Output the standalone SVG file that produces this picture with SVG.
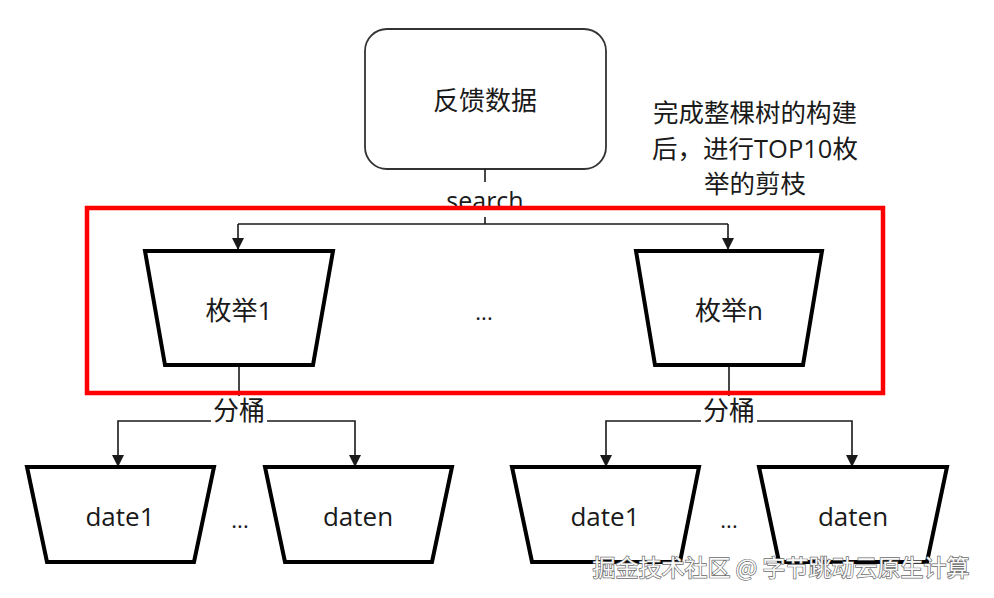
<svg xmlns="http://www.w3.org/2000/svg" width="994" height="598" viewBox="0 0 994 598">
<style>
.t{font-family:"Open Sans","Noto Sans CJK SC",sans-serif;fill:#1a1a1a;text-anchor:middle;dominant-baseline:central}
.trap{fill:#fff;stroke:#000;stroke-width:4;stroke-linejoin:miter}
.c{fill:none;stroke:#1a1a1a;stroke-width:1.6}
.lbl{fill:#fff}
</style>
<defs>
<marker id="ah" markerWidth="12" markerHeight="12" viewBox="0 0 12 12" refX="11" refY="6" orient="auto" markerUnits="userSpaceOnUse">
<path d="M0,0 L12,6 L0,12 Z" fill="#1a1a1a"/>
</marker>
</defs>
<rect width="994" height="598" fill="#fff"/>
<g id="feedback">
<rect x="365" y="29" width="241" height="140" rx="22" fill="#fff" stroke="#333" stroke-width="1.8"/>
<text class="t" x="485" y="100" font-size="26">反馈数据</text>
</g>
<g id="connectors">
<path class="c" d="M485,169 V224 M238,224 H728 M238,224 V249" marker-end="url(#ah)"/>
<path class="c" d="M728,224 V249" marker-end="url(#ah)"/>
<path class="c" d="M239,365 V421 H118 V466" marker-end="url(#ah)"/>
<path class="c" d="M239,421 H355 V466" marker-end="url(#ah)"/>
<path class="c" d="M729,365 V421 H606 V466" marker-end="url(#ah)"/>
<path class="c" d="M729,421 H852 V466" marker-end="url(#ah)"/>
<rect class="lbl" x="441" y="182" width="88" height="35"/>
<text class="t" x="485" y="200" font-size="25">search</text>
<rect class="lbl" x="211" y="396" width="56" height="30"/>
<text class="t" x="239" y="410" font-size="26">分桶</text>
<rect class="lbl" x="701" y="396" width="56" height="30"/>
<text class="t" x="729" y="410" font-size="26">分桶</text>
</g>
<g id="enum1">
<path class="trap" d="M145,251 H333 L313,365 H165 Z"/>
<text class="t" x="239" y="310" font-size="26">枚举1</text>
</g>
<g id="enum-dots"><text class="t" x="484" y="311" font-size="22">...</text></g>
<g id="enumn">
<path class="trap" d="M636,251 H822 L803,365 H655 Z"/>
<text class="t" x="729" y="310" font-size="26">枚举n</text>
</g>
<g id="highlight">
<rect x="87" y="208" width="796" height="185" fill="none" stroke="#f00" stroke-width="4.5"/>
</g>
<g id="note">
<text class="t" x="755" y="112" font-size="25.5">完成整棵树的构建</text>
<text class="t" x="755" y="148" font-size="25.5">后，进行TOP10枚</text>
<text class="t" x="755" y="183" font-size="25.5">举的剪枝</text>
</g>
<g id="date1a">
<path class="trap" d="M27,467 H214 L194,562 H47 Z"/>
<text class="t" x="120" y="516" font-size="26">date1</text>
</g>
<g id="dots-a"><text class="t" x="240" y="519" font-size="22">...</text></g>
<g id="datena">
<path class="trap" d="M265,467 H452 L432,562 H285 Z"/>
<text class="t" x="358" y="516" font-size="26">daten</text>
</g>
<g id="date1b">
<path class="trap" d="M512,467 H699 L680,562 H532 Z"/>
<text class="t" x="605" y="516" font-size="26">date1</text>
</g>
<g id="dots-b"><text class="t" x="729" y="519" font-size="22">...</text></g>
<g id="datenb">
<path class="trap" d="M759,467 H947 L927,562 H779 Z"/>
<text class="t" x="853" y="516" font-size="26">daten</text>
</g>
<g id="watermark">
<text x="781" y="566" font-size="23" text-anchor="middle" dominant-baseline="central" font-family="'Noto Sans CJK SC',sans-serif" fill="#fafafa" stroke="#6a6a6a" stroke-width="1.4" paint-order="stroke">掘金技术社区 @ 字节跳动云原生计算</text>
</g>
</svg>
